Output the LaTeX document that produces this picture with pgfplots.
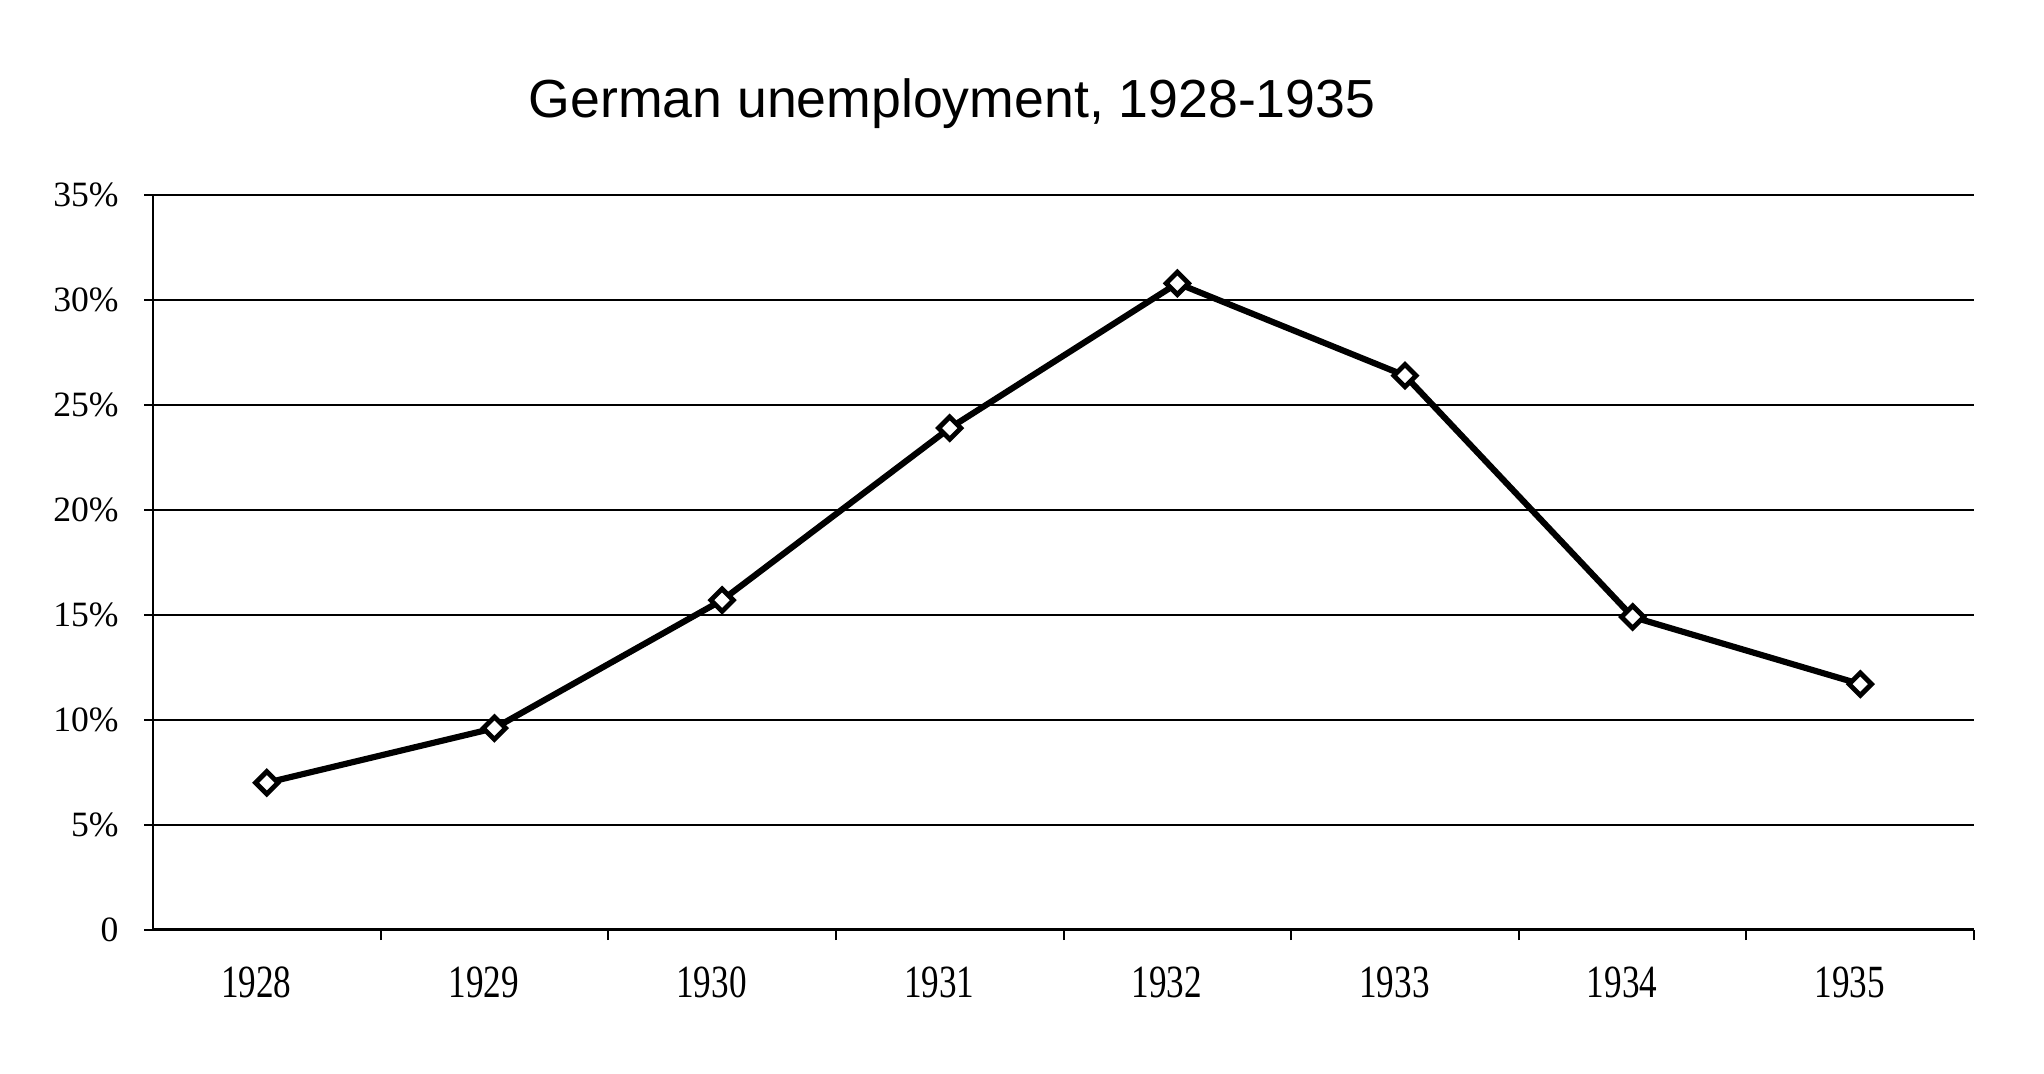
\documentclass[border=0pt]{standalone}
\usepackage{fontspec}
\setmainfont{Liberation Serif}
\newfontfamily\titlefont{Liberation Sans}
\usepackage{graphicx}
\usepackage{pgfplots}
\pgfplotsset{compat=1.18}
\begin{document}
\begin{tikzpicture}
\begin{axis}[
  scale only axis, width=414.3pt, height=167.1pt,
  xmin=0, xmax=8, ymin=0, ymax=35,
  axis x line=bottom, axis y line=left,
  axis line style={line width=0.6pt, -},
  tick align=outside,
  xtick={0.5,1.5,2.5,3.5,4.5,5.5,6.5,7.5},
  xticklabels={\scalebox{0.8}[1.05]{1928},\scalebox{0.8}[1.05]{1929},\scalebox{0.8}[1.05]{1930},\scalebox{0.8}[1.05]{1931},\scalebox{0.8}[1.05]{1932},\scalebox{0.8}[1.05]{1933},\scalebox{0.8}[1.05]{1934},\scalebox{0.8}[1.05]{1935}},
  major x tick style={draw=none},
  minor xtick={1,2,3,4,5,6,7,8},
  minor x tick style={black, line width=0.45pt},
  minor tick length=2.4pt,
  major tick length=2pt,
  ytick={0,5,10,15,20,25,30,35},
  yticklabels={0,5\%,10\%,15\%,20\%,25\%,30\%,35\%},
  y tick style={black, line width=0.5pt},
  ymajorgrids, grid style={black, line width=0.5pt},
  /pgf/number format/assume math mode=true,
  yticklabel style={font=\fontsize{8.1}{10}\selectfont, anchor=east, xshift=-2.3pt},
  xticklabel style={font=\fontsize{10}{12}\selectfont, anchor=center, yshift=-10pt, xshift=-2.4pt},
  title={German unemployment, 1928-1935},
  title style={font=\titlefont\fontsize{12.2}{14}\selectfont, at={(rel axis cs:0.4388,1)}, anchor=base, yshift=11.6pt},
]
\addplot[black, line width=1.4pt, mark=square*, mark size=1.8pt,
  mark options={fill=white, draw=black, line width=1.1pt, rotate=45}]
  coordinates {(0.5,7.0) (1.5,9.6) (2.5,15.7) (3.5,23.9) (4.5,30.8) (5.5,26.4) (6.5,14.9) (7.5,11.7)};
\end{axis}
\path[use as bounding box] ([xshift=-34.8pt,yshift=-32.7pt]current axis.south west) rectangle ([xshift=15.9pt,yshift=44.4pt]current axis.north east);
\end{tikzpicture}
\end{document}
